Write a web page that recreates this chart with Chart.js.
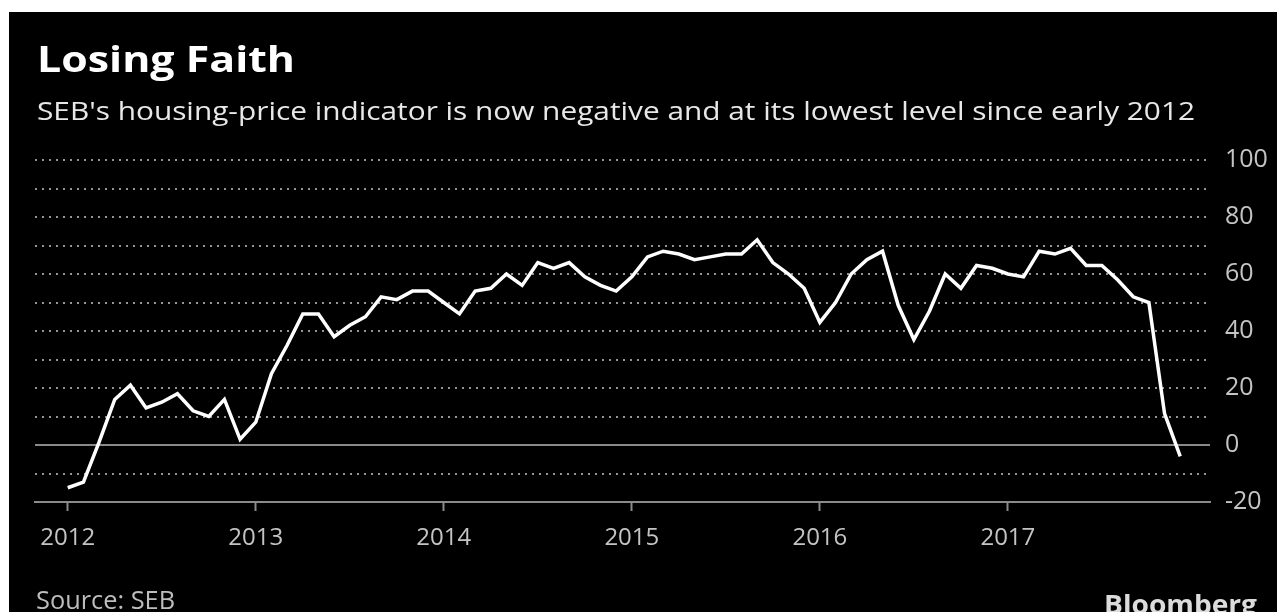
<!DOCTYPE html>
<html>
<head>
<meta charset="utf-8">
<title>Losing Faith</title>
<script src="https://cdn.jsdelivr.net/npm/chart.js@4.4.1/dist/chart.umd.min.js"></script>
<style>
  html, body { margin: 0; padding: 0; background: #fff; }
  #wrap { position: relative; width: 1277px; height: 612px; }
  canvas { display: block; }
</style>
</head>
<body>
<div id="wrap"><canvas id="chart" width="1277" height="612"></canvas></div>
<script>
// SEB housing-price indicator, monthly, Jan 2012 .. Dec 2017
const yearLabels = ["2012", "2013", "2014", "2015", "2016", "2017"];
const indicator = [
  -15, -13, 1, 16, 21, 13, 15, 18, 12, 10, 16, 2,      // 2012
  8, 25, 35, 46, 46, 38, 42, 45, 52, 51, 54, 54,       // 2013
  50, 46, 54, 55, 60, 56, 64, 62, 64, 59, 56, 54,      // 2014
  59, 66, 68, 67, 65, 66, 67, 67, 72, 64, 60, 55,      // 2015
  43, 50, 60, 65, 68, 49, 37, 47, 60, 55, 63, 62,      // 2016
  60, 59, 68, 67, 69, 63, 63, 58, 52, 50, 11, -4       // 2017
];
const yTicks = [-20, 0, 20, 40, 60, 80, 100];

const titleText = "Losing Faith";
const subtitleText = "SEB's housing-price indicator is now negative and at its lowest level since early 2012";
const sourceText = "Source: SEB";
const brandText = "Bloomberg";

const FONT = '"Open Sans", "Noto Sans", sans-serif';

// draw a string squeezed/stretched to a given width
function fitText(ctx, text, x, y, width, font, color) {
  ctx.save();
  ctx.font = font;
  ctx.fillStyle = color;
  ctx.textBaseline = "alphabetic";
  ctx.textAlign = "left";
  const w = ctx.measureText(text).width;
  ctx.translate(x, y);
  ctx.scale(width / w, 1);
  ctx.fillText(text, 0, 0);
  ctx.restore();
}

const backdrop = {
  id: "backdrop",
  beforeDraw(chart) {
    const ctx = chart.ctx;
    ctx.save();
    ctx.fillStyle = "#fff";
    ctx.fillRect(0, 0, chart.width, chart.height);
    ctx.fillStyle = "#000";
    ctx.fillRect(9, 12, chart.width - 9, chart.height - 12);
    ctx.restore();
  }
};

// dotted grid every 10, solid zero line
const gridLines = {
  id: "gridLines",
  beforeDatasetsDraw(chart) {
    const { ctx, chartArea, scales } = chart;
    const y = scales.y;
    ctx.save();
    ctx.lineWidth = 2;
    for (let v = -10; v <= 100; v += 10) {
      if (v === 0) continue;
      const py = Math.round(y.getPixelForValue(v));
      ctx.strokeStyle = "#959595";
      ctx.setLineDash([2, 5]);
      ctx.beginPath();
      ctx.moveTo(chartArea.left, py);
      ctx.lineTo(chartArea.right, py);
      ctx.stroke();
    }
    const z = Math.round(y.getPixelForValue(0));
    ctx.setLineDash([]);
    ctx.strokeStyle = "#8a8a8a";
    ctx.beginPath();
    ctx.moveTo(chartArea.left, z);
    ctx.lineTo(chartArea.right, z);
    ctx.stroke();
    ctx.restore();
  }
};

const headings = {
  id: "headings",
  afterDraw(chart) {
    const ctx = chart.ctx;
    fitText(ctx, titleText, 37, 72, 258, `bold 35px ${FONT}`, "#fff");
    fitText(ctx, subtitleText, 37, 120, 1158, `25px ${FONT}`, "#e8e8e8");
    fitText(ctx, sourceText, 36, 609, 139, `26px ${FONT}`, "#bdbdbd");
    fitText(ctx, brandText, 1104, 614, 153, `bold 27px ${FONT}`, "#dcdcdc");
  }
};

const points = indicator.map((v, i) => ({ x: i, y: v }));

new Chart(document.getElementById("chart"), {
  type: "line",
  data: {
    datasets: [{
      data: points,
      borderColor: "#fff",
      borderWidth: 3.5,
      pointRadius: 0,
      tension: 0,
      fill: false
    }]
  },
  options: {
    responsive: false,
    animation: false,
    events: [],
    layout: { padding: { left: 35, top: 160, right: 0, bottom: 50 } },
    plugins: { legend: { display: false }, tooltip: { enabled: false }, title: { display: false } },
    scales: {
      x: {
        type: "linear",
        min: -2.09,
        max: 72.9,
        afterBuildTicks: s => { s.ticks = yearLabels.map((_, k) => ({ value: k * 12 })); },
        afterFit: s => { s.height = 60; },
        ticks: {
          autoSkip: false,
          maxRotation: 0,
          padding: 13,
          color: "#c4c4c4",
          font: { family: FONT, size: 24 },
          callback: v => yearLabels[v / 12]
        },
        grid: { drawOnChartArea: false, drawTicks: true, tickLength: 9, tickColor: "#8a8a8a", tickWidth: 2 },
        border: { display: true, color: "#8a8a8a", width: 2 }
      },
      y: {
        position: "right",
        min: -20,
        max: 100,
        afterBuildTicks: s => { s.ticks = yTicks.map(v => ({ value: v })); },
        afterFit: s => { s.width = 67; },
        ticks: {
          padding: 15,
          color: "#c4c4c4",
          font: { family: FONT, size: 25 },
          callback: v => String(v)
        },
        grid: { display: false, drawTicks: false },
        border: { display: false }
      }
    }
  },
  plugins: [backdrop, gridLines, headings]
});
</script>
</body>
</html>
